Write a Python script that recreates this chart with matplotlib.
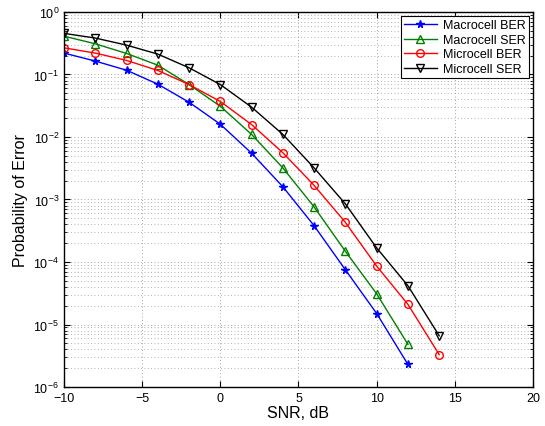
import matplotlib
matplotlib.use("Agg")
import matplotlib.pyplot as plt
from matplotlib.ticker import FixedLocator, NullFormatter, LogFormatterMathtext

plt.rcParams['font.family'] = ['Liberation Sans', 'DejaVu Sans']

snr_macro = [-10, -8, -6, -4, -2, 0, 2, 4, 6, 8, 10, 12]
snr_micro = [-10, -8, -6, -4, -2, 0, 2, 4, 6, 8, 10, 12, 14]

macro_ber = [0.22, 0.164, 0.117, 0.070, 0.036, 0.016, 0.0055, 0.0016, 3.8e-4, 7.5e-5, 1.5e-5, 2.3e-6]
macro_ser = [0.41, 0.31, 0.217, 0.141, 0.069, 0.031, 0.011, 0.0032, 7.6e-4, 1.48e-4, 3.1e-5, 4.8e-6]
micro_ber = [0.267, 0.22, 0.168, 0.116, 0.069, 0.037, 0.0158, 0.0056, 0.00168, 4.3e-4, 8.6e-5, 2.1e-5, 3.3e-6]
micro_ser = [0.455, 0.383, 0.295, 0.212, 0.128, 0.069, 0.030, 0.011, 0.0032, 8.5e-4, 1.68e-4, 4.17e-5, 6.6e-6]

labels = ["Macrocell BER", "Macrocell SER", "Microcell BER", "Microcell SER"]
x_ticks = [-10, -5, 0, 5, 10, 15, 20]
y_ticks = [1e-6, 1e-5, 1e-4, 1e-3, 1e-2, 1e-1, 1e0]

fig = plt.figure(figsize=(5.45, 4.27), dpi=100)
ax = fig.add_axes([0.1174, 0.0913, 0.8606, 0.8783])

ax.semilogy(snr_macro, macro_ber, color='blue', marker='*', ms=5.5, lw=1, label=labels[0])
ax.semilogy(snr_macro, macro_ser, color='green', marker='^', ms=5.5, mfc='none', lw=1, label=labels[1])
ax.semilogy(snr_micro, micro_ber, color='red', marker='o', ms=5.5, mfc='none', lw=1, label=labels[2])
ax.semilogy(snr_micro, micro_ser, color='black', marker='v', ms=5.5, mfc='none', lw=1, label=labels[3])

ax.set_xlim(-10, 20)
ax.set_ylim(1e-6, 1)
ax.set_xticks(x_ticks)
ax.set_xticklabels(['\u221210', '\u22125', '0', '5', '10', '15', '20'])
ax.yaxis.set_major_locator(FixedLocator(y_ticks))
ax.yaxis.set_major_formatter(LogFormatterMathtext())
minor = [m * d for d in y_ticks[:-1] for m in range(2, 10)]
ax.yaxis.set_minor_locator(FixedLocator(minor))
ax.yaxis.set_minor_formatter(NullFormatter())

ax.grid(True, which='major', linestyle=(0, (1, 3)), color='#888888', lw=0.6)
ax.grid(True, which='minor', axis='y', linestyle=(0, (1, 3)), color='#999999', lw=0.6)
ax.tick_params(which='both', direction='in', top=True, right=True, labelsize=9)
ax.tick_params(which='major', length=4)
ax.tick_params(which='minor', length=2)
for s in ax.spines.values():
    s.set_linewidth(1.0)

ax.set_xlabel('SNR, dB', fontsize=11.5, labelpad=1)
ax.set_ylabel('Probability of Error', fontsize=11.5, labelpad=4)

leg = ax.legend(loc='upper right', fontsize=9, fancybox=False, framealpha=1,
                edgecolor='black', borderpad=0.25, labelspacing=0.2, handlelength=2.6,
                handletextpad=0.5, borderaxespad=0.35)
leg.get_frame().set_linewidth(0.8)

fig.savefig('out.png', dpi=100)
